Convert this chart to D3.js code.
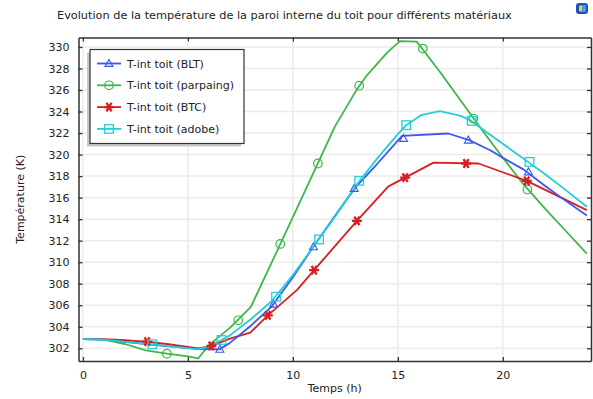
<!DOCTYPE html>
<html>
<head>
<meta charset="utf-8">
<script src="https://cdn.jsdelivr.net/npm/d3@7"></script>
<style>
  html,body{margin:0;padding:0;background:#fff;}
  svg{display:block;font-family:"DejaVu Sans",sans-serif;}
</style>
</head>
<body>
<svg id="chart" width="593" height="399"></svg>
<script>
/* temperature of the inner roof wall — 4 materials */

/* ---------- DATA ---------- */
const TITLE="Evolution de la température de la paroi interne du toit pour différents matériaux";
const X_LABEL="Temps (h)", Y_LABEL="Température (K)";
const X_TICKS=[0,5,10,15,20];
const Y_TICKS=[302,304,306,308,310,312,314,316,318,320,322,324,326,328,330];

const NAMES=["T-int toit (BLT)","T-int toit (parpaing)","T-int toit (BTC)","T-int toit (adobe)"];

/* line points [h, K] */
const lineBLT=[[0,302.85],[1,302.8],[2,302.6],[3,302.4],[4,302.2],[5.5,301.95],[6.5,301.9],[7,302.5],[8,304.1],[9,305.9],
  [10,308.6],[11,311.5],[12,314.3],[13,317.0],[14,319.1],[15.2,321.74],[17.4,321.96],[18.4,321.34],[19.4,320.4],
  [20,319.7],[21,318.6],[22,317.1],[23,315.7],[24,314.35]];
const linePAR=[[0,302.85],[1,302.8],[2,302.4],[3,301.8],[4,301.5],[5,301.25],[5.5,301.07],[6,302.3],[7,303.9],[8,305.85],
  [9,310.0],[10,314.2],[11,318.4],[12,322.6],[13,325.9],[13.5,327.3],[14,328.4],[14.5,329.5],[15.1,330.55],[15.9,330.5],
  [17,327.7],[18,325.0],[19,322.3],[20,319.7],[21,317.2],[22,315.0],[23,312.9],[24,310.8]];
const lineBTC=[[0,302.85],[1,302.85],[2,302.75],[3,302.62],[4,302.4],[5.5,302.0],[6.1,302.21],[7,302.9],[7.97,303.45],
  [8.81,305.06],[10.19,307.4],[11.01,309.26],[13.05,313.84],[14.55,317.05],[15.35,317.86],[16.7,319.25],[18.84,319.17],
  [21.14,317.56],[24,314.84]];
const lineADO=[[0,302.85],[1,302.8],[2,302.6],[3.3,302.37],[5.5,301.9],[6,302.2],[6.6,302.77],[7,303.2],[8,304.7],
  [9,306.4],[10,308.8],[11,311.5],[12,314.2],[13,317.1],[14,319.6],[15,321.9],[15.4,322.73],[16.1,323.66],[17,324.03],
  [18,323.6],[18.5,323.13],[19,322.4],[20,321.0],[21,319.6],[22,318.2],[23,316.7],[24,315.15]];

/* marker points [h, K] */
const markBLT=[[6.52,301.9],[9.08,306.1],[10.98,311.43],[12.92,316.85],[15.27,321.5],[18.36,321.34],[21.22,318.39]];
const markPAR=[[4.0,301.5],[7.4,304.6],[9.4,311.7],[11.19,319.17],[13.16,326.4],[16.19,329.85],[18.6,323.35],[21.17,316.76]];
const markBTC=[[3.06,302.62],[6.12,302.21],[8.81,305.06],[11.01,309.26],[13.05,313.84],[15.35,317.86],[18.25,319.17],[21.14,317.56]];
const markADO=[[3.3,302.37],[6.6,302.77],[9.2,306.79],[11.25,312.12],[13.16,317.56],[15.4,322.73],[18.52,323.13],[21.27,319.32]];

/* ---------- CONFIG ---------- */
const COLS=["#3a58f0","#3cb84a","#d81e24","#22cfd6"];
const SHAPES=["tri","circ","star","sq"];
const PL={left:78.5,right:591,top:37.5,bottom:361};

const svg=d3.select("#chart");
const x=d3.scaleLinear().domain([-0.21,24.2]).range([PL.left,PL.right]);
const y=d3.scaleLinear().domain([300.82,330.88]).range([PL.bottom,PL.top]);

/* title */
svg.append("text").attr("x",57).attr("y",19).attr("font-size",11.3).attr("fill","#222").text(TITLE);

/* little app icon top right */
const ic=svg.append("g").attr("transform","translate(576,3)");
ic.append("rect").attr("width",12).attr("height",11).attr("rx",3).attr("fill","#1f4fb8");
ic.append("rect").attr("x",3).attr("y",2.5).attr("width",7).attr("height",6).attr("rx",1).attr("fill","#f0d24a");
ic.append("rect").attr("x",6).attr("y",2.5).attr("width",4).attr("height",6).attr("fill","#3aa0e8");

/* grid */
const grid=svg.append("g").attr("stroke","#ebebeb").attr("stroke-width",1.5);
Y_TICKS.forEach(v=>grid.append("line").attr("x1",PL.left).attr("x2",PL.right).attr("y1",y(v)).attr("y2",y(v)));
X_TICKS.forEach(v=>grid.append("line").attr("y1",PL.top).attr("y2",PL.bottom).attr("x1",x(v)).attr("x2",x(v)));

/* axes (ticks drawn inward) */
const TK=-4;
svg.append("g").attr("transform",`translate(0,${PL.bottom})`)
  .call(d3.axisBottom(x).tickValues(X_TICKS).tickSize(TK).tickPadding(10).tickSizeOuter(0));
svg.append("g").attr("transform",`translate(0,${PL.top})`)
  .call(d3.axisTop(x).tickValues(X_TICKS).tickSize(TK).tickFormat("").tickSizeOuter(0));
svg.append("g").attr("transform",`translate(${PL.left},0)`)
  .call(d3.axisLeft(y).tickValues(Y_TICKS).tickSize(TK).tickPadding(9).tickSizeOuter(0));
svg.append("g").attr("transform",`translate(${PL.right},0)`)
  .call(d3.axisRight(y).tickValues(Y_TICKS).tickSize(TK).tickFormat("").tickSizeOuter(0));
svg.selectAll(".domain").attr("stroke","#333").attr("stroke-width",1.5);
svg.selectAll(".tick line").attr("stroke","#333").attr("stroke-width",1.3);
svg.selectAll(".tick text").attr("font-size",11).attr("fill","#222").attr("font-family","DejaVu Sans");

/* axis titles */
svg.append("text").attr("x",(PL.left+PL.right)/2).attr("y",392).attr("text-anchor","middle")
  .attr("font-size",11).attr("fill","#222").text(X_LABEL);
svg.append("text").attr("transform",`translate(24,${(PL.top+PL.bottom)/2}) rotate(-90)`)
  .attr("text-anchor","middle").attr("font-size",11).attr("fill","#222").text(Y_LABEL);

/* marker drawing */
function marker(g,shape,col,cx,cy){
  if(shape==="tri"){
    g.append("path").attr("d",d3.symbol(d3.symbolTriangle2,46)()).attr("transform",`translate(${cx},${cy+0.6})`)
      .attr("fill","none").attr("stroke",col).attr("stroke-width",1.1);
  }else if(shape==="circ"){
    g.append("circle").attr("cx",cx).attr("cy",cy).attr("r",4.3)
      .attr("fill","none").attr("stroke",col).attr("stroke-width",1.2);
  }else if(shape==="sq"){
    g.append("rect").attr("x",cx-4.3).attr("y",cy-4.3).attr("width",8.6).attr("height",8.6)
      .attr("fill","none").attr("stroke",col).attr("stroke-width",1.3);
  }else{
    g.append("path").attr("d",d3.symbol(d3.symbolAsterisk,70)()).attr("transform",`translate(${cx},${cy}) rotate(90)`)
      .attr("fill","none").attr("stroke",col).attr("stroke-width",2.4);
  }
}

/* series */
const LINES=[lineBLT,linePAR,lineBTC,lineADO];
const MARKS=[markBLT,markPAR,markBTC,markADO];
const line=d3.line().x(d=>x(d[0])).y(d=>y(d[1]));
const plot=svg.append("g");
[1,2,0,3].forEach(i=>{
  plot.append("path").attr("d",line(LINES[i])).attr("fill","none")
    .attr("stroke",COLS[i]).attr("stroke-width",1.8).attr("stroke-linejoin","round");
});
[1,2,0,3].forEach(i=>MARKS[i].forEach(d=>marker(plot,SHAPES[i],COLS[i],x(d[0]),y(d[1]))));

/* legend */
const lg=svg.append("g").attr("transform","translate(90,49.5)");
lg.append("rect").attr("x",-3).attr("y",3).attr("width",154).attr("height",94).attr("fill","#c8c8c8");
lg.append("rect").attr("width",154).attr("height",94).attr("fill","#fff").attr("stroke","#333").attr("stroke-width",1.2);
NAMES.forEach((n,i)=>{
  const yy=14+i*21.8;
  lg.append("line").attr("x1",7).attr("x2",31).attr("y1",yy).attr("y2",yy).attr("stroke",COLS[i]).attr("stroke-width",1.8);
  marker(lg,SHAPES[i],COLS[i],19,yy);
  lg.append("text").attr("x",37).attr("y",yy+4).attr("font-size",11).attr("fill","#222").text(n);
});
</script>
</body>
</html>
